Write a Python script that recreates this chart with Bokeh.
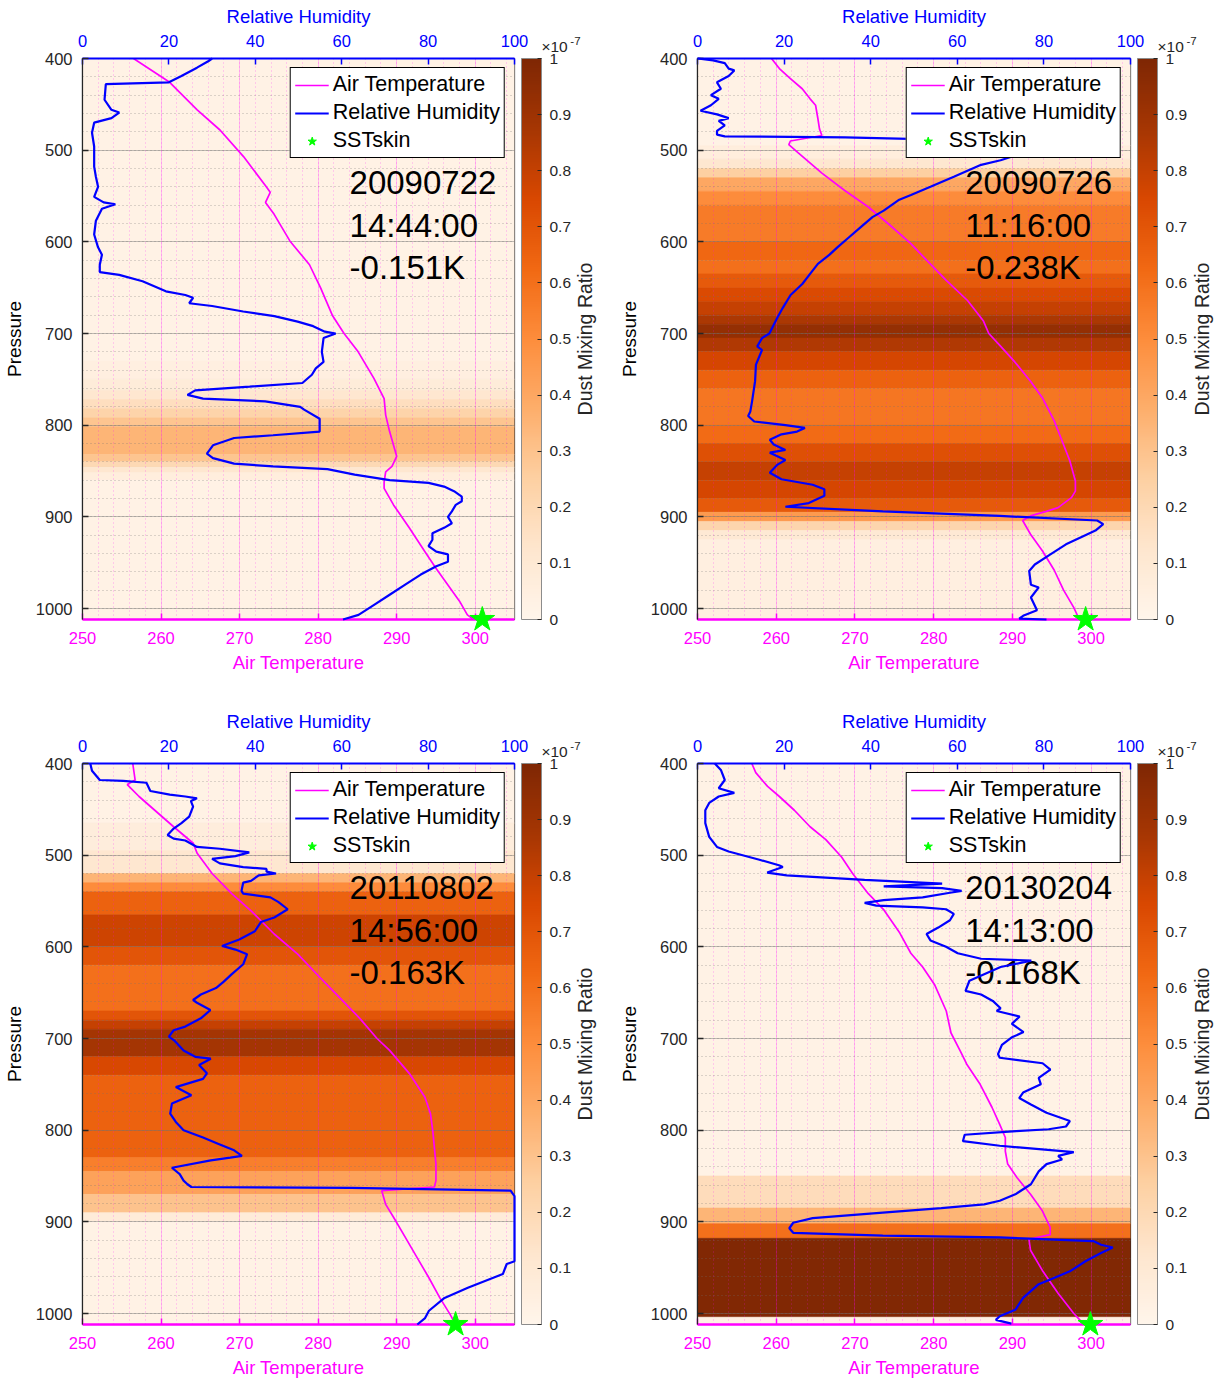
import math
import numpy as np
from bokeh.plotting import figure
from bokeh.models import (Range1d, LinearAxis, SingleIntervalTicker, FixedTicker, ColorBar,
                          LinearColorMapper, ColumnDataSource, CustomJSTickFormatter)
from bokeh.layouts import column, row
from bokeh.embed import file_html
from bokeh.resources import INLINE
from bokeh.core.properties import value
from bokeh.transform import linear_cmap
from bokeh.palettes import Oranges9

# ---------------- data ----------------
DATES = ["20090722", "20090726", "20110802", "20130204"]
TIMES = ["14:44:00", "11:16:00", "14:56:00", "14:13:00"]
DSST = ["-0.151K", "-0.238K", "-0.163K", "-0.168K"]

SST = [300.9, 299.3, 297.5, 299.9]
SST_P = [1012, 1012, 1012, 1012]

T1_P = [400, 426, 456, 478, 507, 540, 546, 557, 570, 599, 625, 650, 680, 700, 720, 749, 771, 789, 807, 822,
        834, 845, 851, 862, 869, 887, 912, 938, 956, 974, 992, 1007, 1012]
T1_V = [256.5, 261.1, 264.6, 267.5, 270.5, 273.4, 273.9, 273.3, 274.4, 276.4, 278.9, 280.3, 281.8, 283.3, 285.1,
        287.1, 288.4, 288.6, 289.1, 289.6, 290.0, 289.4, 288.6, 288.4, 288.4, 289.6, 291.6, 293.6, 295.0, 296.5,
        298.0, 299.0, 299.8]
RH1_P = [400, 403, 410, 419, 426, 428, 445, 456, 459, 465, 470, 481, 496, 518, 529, 540, 551, 557, 559, 564,
         577, 592, 606, 614, 625, 633, 636, 643, 654, 658, 661, 667, 670, 676, 681, 687, 692, 698, 700, 705,
         720, 731, 738, 745, 754, 758, 762, 767, 771, 774, 780, 783, 793, 807, 811, 814, 822, 831, 836, 842,
         845, 848, 854, 860, 863, 867, 872, 878, 883, 887, 894, 900, 907, 912, 918, 925, 932, 938, 941, 949,
         954, 963, 974, 985, 996, 1007, 1012]
RH1_V = [30.0, 29.1, 26.5, 22.9, 20.0, 5.4, 5.1, 6.7, 8.5, 6.7, 2.7, 2.2, 2.7, 2.7, 3.1, 3.6, 2.7, 4.9, 7.6, 4.5,
         3.1, 2.7, 3.6, 4.5, 4.0, 4.0, 8.5, 13.9, 19.3, 23.8, 25.6, 24.7, 30.0, 37.2, 44.4, 49.8, 53.4, 56.1, 58.6, 55.8,
         55.4, 55.8, 54.0, 53.1, 50.9, 38.7, 26.1, 24.3, 27.9, 42.3, 50.4, 51.3, 54.9, 54.9, 44.1, 35.1, 30.2, 28.8, 30.2, 35.1,
         44.1, 56.7, 63.0, 71.1, 80.1, 83.7, 86.0, 87.8, 87.8, 86.4, 85.5, 84.6, 85.5, 83.7, 81.0, 81.0, 80.1, 81.9, 84.6, 84.6,
         81.9, 78.3, 74.7, 71.1, 67.5, 63.9, 60.3]
DUST1_P = [400, 730, 750, 762, 772, 782, 792, 802, 832, 840, 846, 852, 860]
DUST1_V = [0.03, 0.05, 0.08, 0.12, 0.17, 0.23, 0.29, 0.35, 0.29, 0.20, 0.12, 0.06, 0.03]

T2_P = [400, 411, 422, 433, 444, 451, 466, 477, 484, 490, 494, 503, 525, 544, 562, 580, 602, 620, 642, 664,
        686, 700, 713, 731, 752, 770, 795, 817, 839, 861, 872, 879, 890, 894, 899, 904, 919, 937, 958, 980,
        999, 1012]
T2_V = [259.4, 260.4, 261.8, 263.3, 264.3, 265.0, 265.3, 265.5, 265.8, 261.8, 261.6, 262.8, 265.8, 268.7, 271.7,
        274.2, 277.1, 279.1, 281.6, 284.3, 286.3, 287.0, 288.4, 290.3, 292.3, 293.8, 295.3, 296.3, 297.3, 298.0,
        298.0, 297.5, 295.8, 294.3, 292.3, 291.3, 292.3, 293.8, 295.3, 296.5, 297.8, 298.5]
RH2_P = [400, 402, 405, 411, 413, 419, 426, 433, 440, 444, 451, 457, 461, 465, 468, 473, 479, 483, 485, 486,
         489, 491, 494, 503, 511, 516, 529, 540, 549, 554, 566, 573, 584, 595, 606, 614, 624, 635, 646, 658,
         672, 683, 700, 705, 714, 718, 734, 752, 774, 785, 790, 796, 800, 803, 807, 810, 816, 821, 827, 830,
         838, 843, 852, 859, 865, 870, 877, 885, 889, 894, 899, 904, 908, 915, 922, 930, 941, 952, 959, 974,
         977, 988, 1002, 1008, 1011, 1012]
RH2_V = [0.0, 3.6, 6.3, 7.2, 8.5, 7.2, 4.5, 5.4, 3.1, 4.9, 3.1, 0.7, 4.5, 7.2, 4.9, 6.3, 4.5, 4.5, 6.3, 34.1,
         61.0, 78.9, 78.9, 75.3, 70.0, 65.5, 59.2, 53.8, 49.3, 46.6, 43.0, 40.4, 37.7, 35.0, 32.3, 30.5, 27.8, 26.0, 24.2, 21.5,
         19.7, 18.4, 16.6, 14.9, 13.8, 14.9, 13.5, 13.3, 12.6, 12.2, 11.7, 13.1, 20.3, 24.8, 23.0, 19.4, 16.7, 17.6, 20.3, 16.7,
         20.3, 18.5, 16.7, 19.4, 26.6, 29.3, 29.3, 25.7, 20.3, 42.8, 69.8, 92.3, 93.7, 91.9, 88.7, 85.1, 81.5, 77.9, 76.6, 77.0,
         78.8, 77.0, 78.4, 75.2, 74.3, 80.6]
DUST2_P = [400, 495, 510, 520, 530, 545, 560, 600, 620, 635, 650, 665, 680, 690, 705, 720, 740, 760, 800, 820,
           840, 860, 880, 895, 905, 915, 925]
DUST2_V = [0.03, 0.06, 0.12, 0.25, 0.40, 0.50, 0.56, 0.63, 0.60, 0.68, 0.74, 0.80, 0.86, 0.93, 0.85, 0.76, 0.65, 0.58, 0.62, 0.72,
           0.80, 0.76, 0.68, 0.45, 0.22, 0.10, 0.05]

T3_P = [400, 418, 423, 436, 454, 469, 487, 498, 520, 542, 561, 586, 608, 634, 656, 678, 700, 713, 738, 764,
        782, 801, 819, 837, 855, 862, 866, 881, 895, 917, 939, 961, 983, 1001, 1012]
T3_V = [256.4, 256.7, 255.7, 257.2, 259.6, 261.6, 264.1, 264.6, 266.5, 269.0, 271.5, 274.4, 277.4, 280.3, 282.8,
        285.3, 287.5, 289.1, 291.6, 293.6, 294.3, 294.6, 294.8, 295.0, 295.0, 294.8, 288.1, 288.6, 289.6, 291.1,
        292.6, 294.1, 295.5, 296.8, 297.5]
RH3_P = [400, 408, 418, 419, 421, 430, 434, 436, 438, 441, 447, 458, 465, 471, 478, 482, 484, 491, 493, 497,
         501, 504, 509, 513, 515, 518, 520, 522, 528, 530, 539, 542, 546, 551, 559, 568, 573, 583, 592, 599,
         603, 608, 619, 630, 638, 645, 652, 658, 661, 669, 678, 687, 691, 698, 702, 713, 720, 722, 729, 738,
         744, 753, 762, 771, 782, 791, 800, 808, 815, 822, 828, 830, 833, 841, 848, 855, 859, 862, 863, 866,
         872, 943, 946, 957, 972, 983, 997, 1005, 1012]
RH3_V = [1.8, 2.2, 4.0, 9.4, 14.8, 15.7, 20.2, 23.8, 26.5, 25.1, 25.6, 24.7, 22.9, 21.1, 19.7, 21.1, 23.8, 26.5, 31.8, 38.6,
         35.4, 30.0, 31.8, 37.2, 42.6, 42.6, 44.8, 40.8, 39.0, 37.2, 36.8, 37.2, 43.5, 45.3, 47.5, 44.4, 41.3, 39.9, 36.3, 32.3,
         35.4, 38.1, 37.2, 34.5, 32.7, 30.9, 27.4, 25.6, 26.5, 29.6, 27.4, 23.8, 21.1, 20.0, 21.2, 23.4, 26.1, 29.7, 27.0, 28.8,
         27.9, 21.6, 25.2, 20.7, 20.3, 21.6, 23.4, 27.9, 31.5, 35.1, 36.9, 34.2, 29.7, 20.7, 22.5, 23.4, 24.3, 25.2, 62.2, 99.1,
         100.0, 100.0, 98.2, 97.3, 89.2, 83.8, 80.2, 79.3, 77.5]
DUST3_P = [400, 465, 495, 520, 530, 540, 565, 600, 620, 670, 680, 690, 720, 740, 830, 845, 870, 890, 900]
DUST3_V = [0.03, 0.07, 0.12, 0.35, 0.50, 0.65, 0.78, 0.70, 0.60, 0.70, 0.80, 0.88, 0.75, 0.65, 0.55, 0.42, 0.30, 0.08, 0.03]

T4_P = [400, 410, 425, 436, 451, 469, 483, 502, 520, 542, 560, 585, 607, 622, 641, 670, 694, 714, 728, 750,
        775, 794, 808, 823, 837, 852, 870, 888, 906, 914, 919, 931, 953, 978, 1000, 1011]
T4_V = [256.9, 257.4, 258.9, 260.4, 262.3, 264.3, 266.3, 268.3, 269.7, 271.7, 273.7, 275.7, 277.1, 278.6, 280.1,
        281.6, 282.2, 283.4, 284.2, 285.9, 287.4, 288.4, 289.1, 289.1, 289.4, 290.6, 292.3, 293.8, 294.8, 294.8,
        292.1, 292.3, 293.8, 295.8, 297.8, 299.0]
RH4_P = [400, 407, 418, 427, 432, 436, 443, 451, 465, 480, 491, 496, 505, 511, 513, 519, 522, 527, 531, 534,
         536, 539, 541, 546, 549, 552, 555, 557, 559, 564, 571, 579, 586, 593, 600, 607, 613, 615, 622, 637,
         648, 652, 659, 667, 670, 676, 684, 693, 699, 707, 717, 721, 727, 734, 743, 750, 759, 765, 772, 781,
         790, 796, 799, 801, 805, 812, 817, 824, 828, 832, 837, 845, 859, 870, 877, 881, 885, 890, 896, 901,
         907, 912, 915, 917, 921, 925, 928, 934, 943, 954, 963, 968, 983, 996, 1003, 1007, 1011]
RH4_V = [4.0, 5.4, 6.3, 4.9, 8.5, 4.9, 2.7, 1.8, 1.8, 2.7, 4.5, 7.2, 14.3, 18.8, 19.7, 16.1, 20.6, 38.6, 56.5, 43.0,
         56.5, 61.0, 58.3, 52.0, 43.0, 38.6, 41.3, 52.0, 57.4, 59.2, 58.3, 55.6, 52.9, 53.8, 57.4, 60.1, 65.5, 77.1, 70.0, 62.8,
         61.9, 65.5, 68.2, 70.0, 69.1, 74.4, 72.6, 75.3, 72.5, 70.3, 69.4, 69.8, 79.7, 81.5, 78.8, 79.3, 75.2, 74.3, 77.0, 80.6,
         86.0, 85.1, 81.1, 73.6, 61.7, 61.3, 69.8, 86.9, 83.3, 84.2, 80.6, 78.8, 77.0, 73.4, 69.8, 66.2, 56.3, 42.8, 26.6, 22.1,
         21.2, 22.1, 42.8, 69.8, 91.4, 93.2, 95.9, 93.2, 89.6, 86.0, 81.5, 78.8, 75.2, 73.4, 69.8, 68.9, 72.5]
DUST4_P = [400, 850, 885, 902, 918, 1004]
DUST4_V = [0.03, 0.18, 0.35, 0.60, 0.99, 0.03]

T_P = [T1_P, T2_P, T3_P, T4_P]
T_V = [T1_V, T2_V, T3_V, T4_V]
RH_P = [RH1_P, RH2_P, RH3_P, RH4_P]
RH_V = [RH1_V, RH2_V, RH3_V, RH4_V]
DUST_P = [DUST1_P, DUST2_P, DUST3_P, DUST4_P]
DUST_V = [DUST1_V, DUST2_V, DUST3_V, DUST4_V]

CB_TICKS = [0, 0.1, 0.2, 0.3, 0.4, 0.5, 0.6, 0.7, 0.8, 0.9, 1.0]

# ---------------- style ----------------
T_MIN, T_MAX = 250, 305
RH_MIN, RH_MAX = 0, 100
P_TOP, P_BOT = 400, 1012
FRAME_W, FRAME_H = 433, 561
FONT = "Liberation Sans"
MAGENTA = "#FF00FF"
BLUE = "#0000FF"
GREEN = "#00FF00"
DARK = "#262626"
K_PER_PX = (T_MAX - T_MIN) / FRAME_W
HPA_PER_PX = (P_BOT - P_TOP) / FRAME_H

_base = list(reversed(Oranges9))
_rgb = np.array([[int(c[k:k + 2], 16) for k in (1, 3, 5)] for c in _base], float)
_t = np.linspace(0, 1, len(_base))
PALETTE = ['#%02x%02x%02x' % tuple(int(round(np.interp(v, _t, _rgb[:, k]))) for k in range(3))
           for v in np.linspace(0, 1, 256)]


def make_panel(i, width, height, left, right, bottom, tick_so, lab_so):
    p = figure(width=width, height=height,
               x_range=Range1d(T_MIN, T_MAX), y_range=Range1d(P_BOT, P_TOP),
               output_backend="svg", toolbar_location=None,
               min_border_left=left, min_border_right=right,
               min_border_top=58, min_border_bottom=bottom)
    p.outline_line_color = DARK
    p.outline_line_width = 1.2
    p.background_fill_color = "white"
    p.border_fill_color = "white"
    p.extra_x_ranges = {"rh": Range1d(RH_MIN, RH_MAX)}

    tk_t = SingleIntervalTicker(interval=10, num_minor_ticks=5)
    tk_p = SingleIntervalTicker(interval=100, num_minor_ticks=5)
    tk_rh = SingleIntervalTicker(interval=20, num_minor_ticks=5)

    # dust mixing ratio bands
    tops = DUST_P[i]
    bots = tops[1:] + [P_BOT]
    dsrc = ColumnDataSource(dict(top=tops, bottom=bots, dust=DUST_V[i]))
    cmap = linear_cmap("dust", PALETTE, 0, 1)
    p.quad(left=T_MIN, right=T_MAX, top="top", bottom="bottom", source=dsrc,
           fill_color=cmap, line_color=cmap, line_width=0.6, level="image")

    # grid
    p.xgrid.ticker = tk_t
    p.xgrid.grid_line_color = MAGENTA
    p.xgrid.grid_line_alpha = 0.22
    p.xgrid.minor_grid_line_color = MAGENTA
    p.xgrid.minor_grid_line_alpha = 0.35
    p.xgrid.minor_grid_line_dash = "1 3"
    p.ygrid.ticker = tk_p
    p.ygrid.grid_line_color = "#707070"
    p.ygrid.grid_line_alpha = 0.45
    p.ygrid.minor_grid_line_color = "#707070"
    p.ygrid.minor_grid_line_alpha = 0.5
    p.ygrid.minor_grid_line_dash = "1 3"

    # lines and marker
    p.line(T_V[i], T_P[i], color=MAGENTA, line_width=1.7, legend_label="Air Temperature")
    p.line(RH_V[i], RH_P[i], color=BLUE, line_width=2.2, x_range_name="rh",
           legend_label="Relative Humidity", level="overlay")
    p.scatter([SST[i]], [SST_P[i]], marker="star", size=26, color=GREEN, legend_label="SSTskin",
              level="overlay")

    # annotation text
    asrc = ColumnDataSource(dict(x=[284.0, 284.0, 284.0], y=[535, 582, 628],
                                 text=[DATES[i], TIMES[i], DSST[i]]))
    p.text(x="x", y="y", text="text", source=asrc, text_font=value(FONT),
           text_font_size=value("33px"), text_color="black",
           text_baseline="middle", text_align="left")

    # colour-bar texts (drawn at overlay level, outside the frame)
    p.text(x=[T_MAX + 27 * K_PER_PX], y=[P_TOP - 12 * HPA_PER_PX], text=["×10"],
           text_font=value(FONT), text_font_size=value("15.5px"), text_color=DARK,
           text_align="left", text_baseline="middle", level="overlay")
    p.text(x=[T_MAX + 56 * K_PER_PX], y=[P_TOP - 18 * HPA_PER_PX], text=["-7"],
           text_font=value(FONT), text_font_size=value("11.5px"), text_color=DARK,
           text_align="left", text_baseline="middle", level="overlay")
    p.text(x=[T_MAX + 71 * K_PER_PX], y=[(P_TOP + P_BOT) / 2], text=["Dust Mixing Ratio"],
           angle=math.pi / 2, text_font=value(FONT), text_font_size=value("19.5px"), text_color=DARK,
           text_align="center", text_baseline="middle", level="overlay")

    # bottom axis: temperature
    xa = p.xaxis[0]
    xa.ticker = tk_t
    xa.axis_label = "Air Temperature"
    xa.axis_label_text_color = MAGENTA
    xa.axis_label_text_font = FONT
    xa.axis_label_text_font_size = "18.5px"
    xa.axis_label_text_font_style = "normal"
    xa.axis_label_standoff = lab_so
    xa.major_label_text_color = MAGENTA
    xa.major_label_text_font = FONT
    xa.major_label_text_font_size = "16.5px"
    xa.major_label_standoff = tick_so
    xa.axis_line_color = MAGENTA
    xa.axis_line_width = 2.5
    xa.major_tick_line_color = MAGENTA
    xa.major_tick_line_width = 1.5
    xa.major_tick_in = 6
    xa.major_tick_out = 0
    xa.minor_tick_line_color = None

    # left axis: pressure
    ya = p.yaxis[0]
    ya.ticker = tk_p
    ya.axis_label = "Pressure"
    ya.axis_label_text_color = "black"
    ya.axis_label_text_font = FONT
    ya.axis_label_text_font_size = "19px"
    ya.axis_label_text_font_style = "normal"
    ya.axis_label_standoff = 8
    ya.major_label_text_color = DARK
    ya.major_label_text_font = FONT
    ya.major_label_text_font_size = "16.5px"
    ya.major_label_standoff = 6
    ya.axis_line_color = DARK
    ya.axis_line_width = 1.2
    ya.major_tick_line_color = DARK
    ya.major_tick_line_width = 1.5
    ya.major_tick_in = 6
    ya.major_tick_out = 0
    ya.minor_tick_line_color = None

    # top axis: relative humidity
    ta = LinearAxis(x_range_name="rh", ticker=tk_rh, axis_label="Relative Humidity",
                    axis_label_text_color=BLUE, axis_label_text_font=FONT,
                    axis_label_text_font_size="18.5px", axis_label_text_font_style="normal",
                    axis_label_standoff=5,
                    major_label_text_color=BLUE, major_label_text_font=FONT,
                    major_label_text_font_size="16.5px", major_label_standoff=8,
                    axis_line_color=BLUE, axis_line_width=2.2,
                    major_tick_line_color=BLUE, major_tick_line_width=1.5,
                    major_tick_in=6, major_tick_out=0, minor_tick_line_color=None)
    p.add_layout(ta, "above")

    mapper = LinearColorMapper(palette=PALETTE, low=0, high=1)

    # invisible spacer between the frame and the colour bar
    spacer = ColorBar(color_mapper=mapper, width=7, ticker=FixedTicker(ticks=[]),
                      scale_alpha=0, bar_line_color=None, major_tick_line_color=None,
                      minor_tick_line_color=None, major_tick_in=0, major_tick_out=0,
                      label_standoff=0, padding=0, margin=0, border_line_color=None,
                      background_fill_alpha=0)
    p.add_layout(spacer, "right")

    # colour bar
    cb = ColorBar(color_mapper=mapper, width=20, ticker=FixedTicker(ticks=CB_TICKS),
                  formatter=CustomJSTickFormatter(code="return String(Math.round(tick*10)/10)"),
                  major_label_text_font=FONT, major_label_text_font_size="15.5px",
                  major_label_text_color=DARK, major_tick_line_color=DARK,
                  major_tick_in=4, major_tick_out=0, label_standoff=8,
                  bar_line_color="#8c8c8c", bar_line_width=1,
                  padding=0, margin=0, border_line_color=None, background_fill_alpha=0)
    p.add_layout(cb, "right")

    # legend
    lg = p.legend[0]
    lg.location = "top_right"
    lg.margin = 9
    lg.border_line_color = "black"
    lg.border_line_width = 1.5
    lg.border_line_alpha = 1
    lg.background_fill_color = "white"
    lg.background_fill_alpha = 1
    lg.label_text_font = FONT
    lg.label_text_font_size = "21.5px"
    lg.label_text_color = "black"
    lg.glyph_width = 34
    lg.glyph_height = 22
    lg.label_height = 22
    lg.label_standoff = 4
    lg.spacing = 3
    lg.padding = 4
    return p


p1 = make_panel(0, 610, 705, 81, 96, 86, 8, 5)
p2 = make_panel(1, 608, 705, 87, 88, 86, 8, 5)
p3 = make_panel(2, 610, 675, 81, 96, 56, 8, 5)
p4 = make_panel(3, 608, 675, 87, 88, 56, 8, 5)

layout = column(row(p1, p2), row(p3, p4))
open("out.html", "w").write(file_html(layout, INLINE))
